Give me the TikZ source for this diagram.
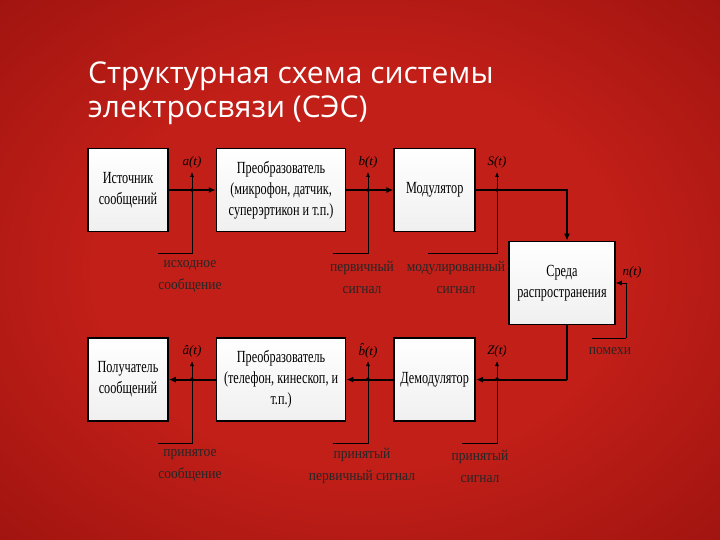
\documentclass[tikz,border=0pt]{standalone}
\usepackage{fontspec}
\setmainfont{Liberation Serif}
\newfontfamily\titlefont{Open Sans}
\newfontfamily\boxfont{Liberation Serif}[FakeStretch=0.72]
\newfontfamily\notefont{Liberation Serif}[FakeStretch=0.9]
\usetikzlibrary{arrows.meta,positioning}
\definecolor{bgin}{HTML}{C21F18}
\definecolor{bgout}{HTML}{860B09}
\pgfdeclareradialshading{bgshade}{\pgfpoint{0bp}{0bp}}{color(0bp)=(bgin); color(18bp)=(bgin); color(50bp)=(bgout); color(72bp)=(bgout)}

\begin{document}
\begin{tikzpicture}[
  x=1pt, y=-1pt,
  >=Latex,
  node distance=105pt and 47pt,
  box/.style={draw=black, line width=1.6pt, top color=white, bottom color=gray!12, minimum height=83pt, inner sep=2pt, align=center, font=\boxfont\fontsize{17}{21}\selectfont},
  flow/.style={->, line width=2.2pt, arrows={-Latex[length=7pt,width=6pt]}},
  wire/.style={line width=2.2pt},
  tap/.style={line width=0.7pt},
  sig/.style={font=\itshape\fontsize{13}{13}\selectfont, inner sep=1pt},
  note/.style={align=center, text=black!85, font=\notefont\fontsize{15}{22}\selectfont}
]
% background and title
\shade[shading=bgshade] (0,0) rectangle (720,540);
\useasboundingbox (0,0) rectangle (720,540);
\node[anchor=base west, align=left, inner sep=0pt, text=white, font=\titlefont\fontsize{30}{34}\selectfont] (title) at (88,118)
  {Структурная схема системы\\электросвязи (СЭС)};

% upper chain
\node[box, minimum width=80pt] (src) at (128,190) {Источник\\сообщений};
\node[box, minimum width=129pt, right=of src] (conv) {Преобразователь\\(микрофон, датчик,\\суперэртикон и т.п.)};
\node[box, minimum width=81pt, right=of conv] (mod) {Модулятор};
\node[box, minimum width=106pt] (med) at (562,283) {Среда\\распространения};

% lower chain
\node[box, minimum width=80pt, below=of src] (rcv) {Получатель\\сообщений};
\node[box, minimum width=129pt, below=of conv] (conv2) {Преобразователь\\(телефон, кинескоп, и\\т.п.)};
\node[box, minimum width=81pt, below=of mod] (dem) {Демодулятор};

% main connectors
\coordinate (c1) at (567,190);
\coordinate (c2) at (c1 |- dem);
\draw[flow] (src) -- (conv);
\draw[flow] (conv) -- (mod);
\draw[flow] (mod) -- (c1) -- (c1 |- med.north);
\draw[wire] (c1 |- med.south) -- (c2);
\draw[flow] (c2) -- (dem);
\draw[flow] (dem) -- (conv2);
\draw[flow] (conv2) -- (rcv);

% signal taps, upper row
\foreach \x/\lx/\n/\s/\t/\cx in {192/158/a/a(t)/исходное\\сообщение/190,
                                  368/333/b/b(t)/первичный\\сигнал/362,
                                  497/428/s/S(t)/модулированный\\сигнал/456} {
  \draw[tap] (\lx,253) -- (\x,253) -- (\x,190);
  \fill (\x,190) circle (1.8pt);
  \draw[tap, -{Latex[length=5pt,width=4pt]}] (\x,190) -- (\x,172);
  \node[sig] (sig-\n) at (\x,162) {\s};
  \node[note] (note-\n) at (\cx,277) {\t};
}

% signal taps, lower row
\foreach \x/\lx/\n/\s/\t/\cx in {192/158/ha/â(t)/принятое\\сообщение/190,
                                  368/333/hb/b̂(t)/принятый\\первичный сигнал/362,
                                  497/462/z/Z(t)/принятый\\сигнал/480} {
  \draw[tap] (\lx,443) -- (\x,443) -- (\x,379);
  \fill (\x,379) circle (1.8pt);
  \draw[tap, -{Latex[length=5pt,width=4pt]}] (\x,379) -- (\x,361);
  \node[sig] (sig-\n) at (\x,351) {\s};
  \node[note] (note-\n) at (\cx,466) {\t};
}

% noise
\coordinate (nz) at (626,338);
\draw[tap] (592,338) -- (nz);
\draw[tap, -{Latex[length=6pt,width=5pt]}] (nz) -- (nz |- med.east) -- (med.east);
\node[sig] (sig-n) at (632,272) {n(t)};
\node[note] (note-n) at (610,351) {помехи};
\end{tikzpicture}
\end{document}
